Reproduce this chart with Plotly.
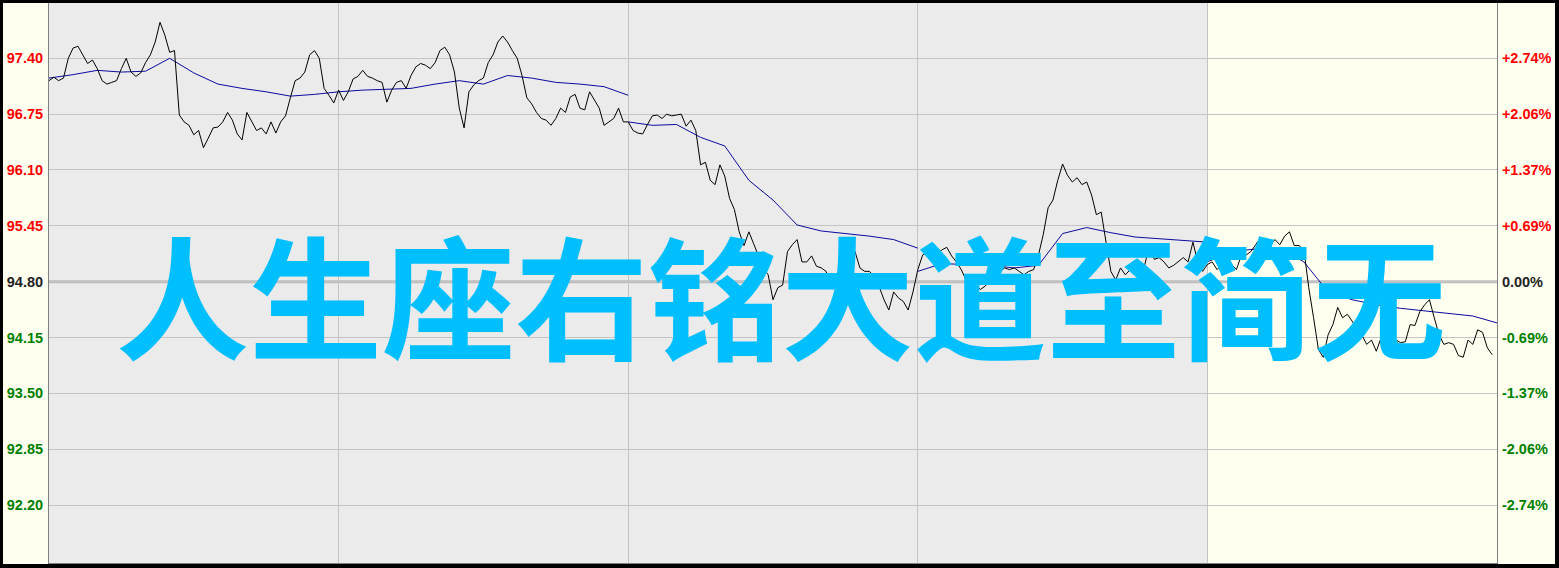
import plotly.graph_objects as go

# ---------------- data ----------------
prev_close = 94.80
minutes_per_day = 240
price_step = 4      # minutes between price samples
avg_step = 20       # minutes between average samples

day1_price = [97.14, 97.18, 97.14, 97.17, 97.40, 97.52, 97.54, 97.44, 97.34, 97.38,
              97.28, 97.14, 97.10, 97.12, 97.14, 97.28, 97.40, 97.24, 97.19, 97.23,
              97.35, 97.44, 97.59, 97.82, 97.67, 97.47, 97.49, 96.74, 96.66, 96.62,
              96.51, 96.56, 96.36, 96.47, 96.59, 96.60, 96.66, 96.77, 96.68, 96.52,
              96.45, 96.77, 96.66, 96.56, 96.59, 96.52, 96.66, 96.53, 96.66, 96.73,
              96.94, 97.14, 97.17, 97.24, 97.44, 97.49, 97.40, 97.05, 96.97, 96.88]
day2_price = [97.03, 96.91, 97.01, 97.16, 97.19, 97.26, 97.19, 97.17, 97.14, 97.12,
              96.89, 97.03, 97.12, 97.14, 97.05, 97.20, 97.30, 97.34, 97.32, 97.28,
              97.35, 97.49, 97.53, 97.44, 97.24, 96.82, 96.59, 97.01, 97.09, 97.14,
              97.17, 97.35, 97.44, 97.59, 97.66, 97.59, 97.49, 97.40, 97.20, 96.94,
              96.87, 96.77, 96.70, 96.68, 96.62, 96.70, 96.82, 96.77, 96.95, 96.98,
              96.82, 96.80, 97.01, 96.91, 96.82, 96.62, 96.66, 96.70, 96.82, 96.66]
day3_price = [96.66, 96.56, 96.53, 96.52, 96.63, 96.73, 96.74, 96.70, 96.75, 96.73,
              96.74, 96.75, 96.61, 96.68, 96.56, 96.16, 96.19, 95.98, 95.93, 96.16,
              96.03, 95.77, 95.64, 95.38, 95.22, 95.38, 95.24, 95.11, 94.96, 94.88,
              94.59, 94.73, 94.76, 95.15, 95.23, 95.29, 95.03, 95.03, 95.10, 94.98,
              94.96, 94.92, 94.77, 94.89, 94.92, 94.87, 94.92, 95.15, 94.96, 94.92,
              94.92, 94.85, 94.74, 94.59, 94.47, 94.68, 94.61, 94.57, 94.47, 94.68]
day4_price = [94.94, 95.11, 95.15, 95.17, 95.12, 95.17, 95.20, 95.10, 95.03, 94.94,
              94.82, 94.73, 94.75, 94.71, 94.75, 94.82, 94.94, 94.92, 94.96, 94.94,
              94.96, 94.92, 94.88, 94.92, 94.94, 95.11, 95.35, 95.66, 95.75, 95.98,
              96.17, 96.04, 95.96, 96.01, 95.93, 95.96, 95.81, 95.58, 95.61, 95.26,
              94.92, 94.82, 94.96, 94.88, 94.94, 94.88, 94.92, 94.99, 95.23, 95.06,
              95.08, 95.03, 94.96, 94.99, 95.03, 95.08, 95.03, 95.26, 95.03, 94.92]
day5_price = [95.00, 95.03, 94.94, 95.00, 94.96, 95.00, 94.94, 95.10, 95.11, 95.15,
              95.23, 95.31, 95.24, 95.23, 95.29, 95.23, 95.33, 95.38, 95.22, 95.22,
              95.17, 94.73, 94.38, 94.01, 93.92, 94.18, 94.30, 94.50, 94.38, 94.42,
              94.34, 94.24, 94.18, 94.07, 94.12, 93.99, 94.15, 94.12, 94.16, 94.12,
              94.09, 94.10, 94.30, 94.29, 94.45, 94.53, 94.59, 94.38, 94.18, 94.07,
              94.09, 94.07, 93.94, 93.92, 94.12, 94.07, 94.24, 94.21, 94.03, 93.95]

day1_avg = [97.17, 97.21, 97.26, 97.24, 97.25, 97.40, 97.23, 97.10, 97.05, 97.01, 96.96, 96.98, 97.01]
day2_avg = [97.01, 97.03, 97.04, 97.05, 97.10, 97.14, 97.10, 97.20, 97.17, 97.12, 97.10, 97.07, 96.97]
day3_avg = [96.66, 96.62, 96.63, 96.48, 96.38, 95.98, 95.75, 95.46, 95.39, 95.36, 95.33, 95.29, 95.19]
day4_avg = [94.92, 95.01, 95.00, 94.99, 94.96, 94.99, 95.36, 95.43, 95.37, 95.32, 95.30, 95.28, 95.26]
day5_avg = [95.03, 95.15, 95.18, 95.19, 95.03, 94.68, 94.59, 94.53, 94.49, 94.46, 94.43, 94.40, 94.32]

y_ticks = [92.20, 92.85, 93.50, 94.15, 94.80, 95.45, 96.10, 96.75, 97.40]
left_labels = ["92.20", "92.85", "93.50", "94.15", "94.80", "95.45", "96.10", "96.75", "97.40"]
right_labels = ["-2.74%", "-2.06%", "-1.37%", "-0.69%", "0.00%", "+0.69%", "+1.37%", "+2.06%", "+2.74%"]
day_bounds = [240, 480, 720, 960]
overlay_text = "人生座右铭大道至简无"

# ---------------- build ----------------
prices = [day1_price, day2_price, day3_price, day4_price, day5_price]
avgs = [day1_avg, day2_avg, day3_avg, day4_avg, day5_avg]

px_x, px_y = [], []
for d, arr in enumerate(prices):
    for i, v in enumerate(arr):
        px_x.append(d * minutes_per_day + i * price_step)
        px_y.append(v)

av_x, av_y = [], []
for d, arr in enumerate(avgs):
    for k, v in enumerate(arr):
        av_x.append(d * minutes_per_day + k * avg_step)
        av_y.append(v)
    av_x.append(None)
    av_y.append(None)


def col(v):
    if abs(v - prev_close) < 1e-9:
        return "#222222"
    return "#FF0000" if v > prev_close else "#008000"


left_text = [f'<span style="color:{col(v)}">{t}</span>' for v, t in zip(y_ticks, left_labels)]
right_text = [f'<span style="color:{col(v)}">{t}</span>' for v, t in zip(y_ticks, right_labels)]

yr = [91.525, 98.044]
xr = [0, 5 * minutes_per_day]

fig = go.Figure()
fig.add_trace(go.Scatter(x=av_x, y=av_y, mode="lines", line=dict(color="#0A0AA0", width=1),
                         connectgaps=False, hoverinfo="skip", showlegend=False))
fig.add_trace(go.Scatter(x=px_x, y=px_y, mode="lines", line=dict(color="#000000", width=1),
                         hoverinfo="skip", showlegend=False))
fig.add_trace(go.Scatter(x=[xr[0]], y=[prev_close], yaxis="y2", mode="markers",
                         marker=dict(opacity=0), hoverinfo="skip", showlegend=False))

W, H = 1559, 568
L, R, T, B = 49, 62, 3, 5
pw, ph = W - L - R, H - T - B

tickfont = dict(family="Liberation Sans, Arial", size=14.5, weight="bold")

shapes = [
    dict(type="rect", xref="x", yref="paper", x0=960, x1=1200, y0=0, y1=1,
         fillcolor="#FFFFF0", line=dict(width=0), layer="below"),
    dict(type="line", xref="paper", yref="y", x0=0, x1=1, y0=prev_close, y1=prev_close,
         line=dict(color="#BDBDBD", width=3), layer="below"),
]
fx = lambda p: (p - L) / pw
fy = lambda p: (H - B - p) / ph
for x0, x1, y0, y1 in [(0, 3, 0, H), (W - 4, W, 0, H), (0, W, 0, 3), (0, W, H - 4, H)]:
    shapes.append(dict(type="rect", xref="paper", yref="paper",
                       x0=fx(x0), x1=fx(x1), y0=fy(y1), y1=fy(y0),
                       fillcolor="#000000", line=dict(width=0), layer="above"))

fig.update_layout(
    width=W, height=H,
    margin=dict(l=L, r=R, t=T, b=B, pad=0),
    paper_bgcolor="#FFFFF0",
    plot_bgcolor="#EBEBEB",
    xaxis=dict(range=xr, tickvals=day_bounds, showticklabels=False, ticks="",
               showgrid=True, gridcolor="#C4C4C4", gridwidth=1, zeroline=False,
               showline=True, linecolor="#808080", linewidth=2, fixedrange=True),
    yaxis=dict(range=yr, tickvals=y_ticks, ticktext=left_text, tickfont=tickfont,
               showgrid=True, gridcolor="#C4C4C4", gridwidth=1, zeroline=False,
               showline=True, linecolor="#808080", linewidth=1, ticks="",
               ticklabelstandoff=2),
    yaxis2=dict(range=yr, tickvals=y_ticks, ticktext=right_text, tickfont=tickfont,
                overlaying="y", side="right", showgrid=False, zeroline=False,
                showline=True, linecolor="#808080", linewidth=1, ticks="",
                ticklabelstandoff=1),
    shapes=shapes,
    annotations=[dict(text=overlay_text, xref="paper", yref="paper",
                      x=(781 - L) / pw, y=(H - B - 292) / ph,
                      xanchor="center", yanchor="middle", showarrow=False,
                      font=dict(family="Noto Sans CJK SC", size=133, color="#00BFFF",
                                weight="bold"))],
    showlegend=False,
)

fig.write_html("out.html", config={"displayModeBar": False},
               post_script="document.body.style.margin='0';document.body.style.overflow='hidden';")
